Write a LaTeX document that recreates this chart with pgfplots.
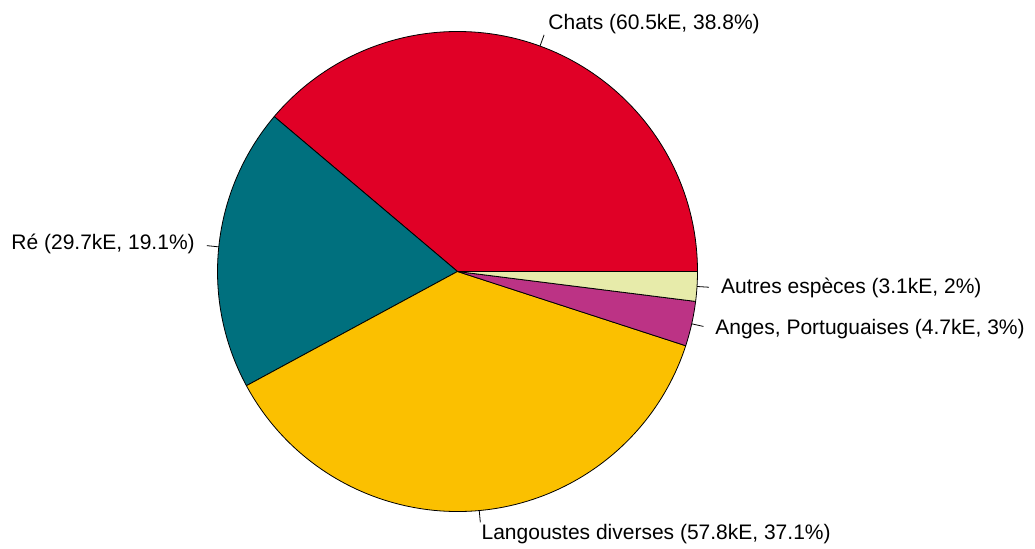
\documentclass[border=0pt]{standalone}
\usepackage{pgfplots}
\pgfplotsset{compat=1.18}
\usepackage{fontspec}
\setmainfont{Liberation Sans}
\definecolor{cChats}{HTML}{E00026}
\definecolor{cRe}{HTML}{00707E}
\definecolor{cLang}{HTML}{FBC000}
\definecolor{cAnges}{HTML}{BC3385}
\definecolor{cAutres}{HTML}{E7EBAA}
% value / colour / label
\def\slices{60.5/cChats/{Chats (60.5kE, 38.8\%)},
            29.7/cRe/{Ré (29.7kE, 19.1\%)},
            57.8/cLang/{Langoustes diverses (57.8kE, 37.1\%)},
            4.7/cAnges/{Anges, Portuguaises (4.7kE, 3\%)},
            3.1/cAutres/{Autres espèces (3.1kE, 2\%)}}
\begin{document}
\begin{tikzpicture}
\useasboundingbox (0,0) rectangle (1035bp,549bp);
\begin{axis}[at={(0,0)}, anchor=south west, width=1035bp, height=549bp,
  scale only axis, xmin=0, xmax=1035, ymin=0, ymax=549, hide axis, clip=false]
\gdef\total{0}
\foreach \v/\c/\t in \slices {\pgfmathsetmacro\s{\total+\v}\xdef\total{\s}}
\gdef\cum{0}
\foreach \v/\c/\t in \slices {%
  \pgfmathsetmacro\a{\cum/\total*360}%
  \pgfmathsetmacro\b{(\cum+\v)/\total*360}%
  \pgfmathsetmacro\m{(\a+\b)/2}%
  \pgfmathsetmacro\cm{cos(\m)}%
  \pgfmathparse{\cm>0?"west":"east"}\let\anc\pgfmathresult
  \edef\tmp{%
    \noexpand\filldraw[fill=\c, draw=black, line width=0.8bp, line join=round]
      (axis cs:457.5,277.5) -- ++(\a:240bp) arc[start angle=\a, end angle=\b, radius=240bp] -- cycle;
    \noexpand\draw[black, line width=0.8bp] (axis cs:457.5,277.5) ++(\m:240bp) -- ++(\m:12bp);
    \noexpand\node[anchor=\anc, inner sep=0pt, font=\noexpand\fontsize{21bp}{25bp}\noexpand\selectfont]
      at ([shift={(\m:264bp)}]axis cs:457.5,277.5) {\unexpanded\expandafter{\t}};
  }\tmp
  \pgfmathsetmacro\s{\cum+\v}\xdef\cum{\s}%
}
\end{axis}
\end{tikzpicture}
\end{document}
